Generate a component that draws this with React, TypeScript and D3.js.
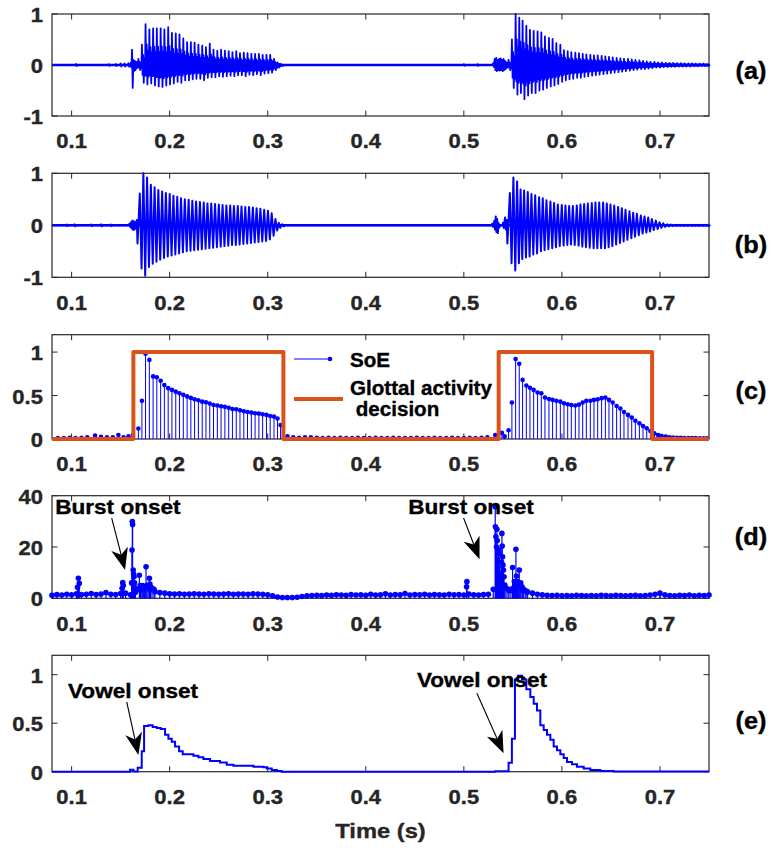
import React from 'react';
import * as d3 from 'd3';

// ---------------- data ----------------
const xTickValues = [0.1, 0.2, 0.3, 0.4, 0.5, 0.6, 0.7];
const xTickLabels = ['0.1', '0.2', '0.3', '0.4', '0.5', '0.6', '0.7'];
const waveTicks = [-1, 0, 1];
const waveTickLabels = ['-1', '0', '1'];
const unitTicks = [0, 0.5, 1];
const unitTickLabels = ['0', '0.5', '1'];
const burstTicks = [0, 20, 40];
const burstTickLabels = ['0', '20', '40'];
const panelNames = ['(a)', '(b)', '(c)', '(d)', '(e)'];
const panelLabelValues = [-0.15, -0.41, 0.53, 23.3, 0.507];

// glottal epochs (s)
const epochs1 = [0.1681, 0.1717, 0.1754, 0.1793, 0.1831, 0.1869, 0.1908, 0.1946, 0.1985, 0.2023,
  0.2062, 0.2100, 0.2139, 0.2178, 0.2216, 0.2254, 0.2293, 0.2332, 0.2370, 0.2409,
  0.2447, 0.2486, 0.2524, 0.2563, 0.2602, 0.2640, 0.2679, 0.2717, 0.2756, 0.2794,
  0.2833, 0.2871, 0.2910, 0.2948, 0.2987, 0.3025, 0.3064, 0.3100, 0.3131];
const epochs2 = [0.5456, 0.5490, 0.5528, 0.5565, 0.5599, 0.5637, 0.5674, 0.5712, 0.5752, 0.5790,
  0.5827, 0.5868, 0.5905, 0.5943, 0.5984, 0.6021, 0.6059, 0.6096, 0.6137, 0.6174,
  0.6212, 0.6249, 0.6290, 0.6327, 0.6365, 0.6405, 0.6443, 0.6480, 0.6518, 0.6558,
  0.6596, 0.6633, 0.6674, 0.6712, 0.6749, 0.6790, 0.6827, 0.6865, 0.6902, 0.6943,
  0.6980, 0.7018, 0.7059, 0.7096, 0.7134, 0.7174, 0.7212, 0.7249, 0.7290, 0.7327,
  0.7365, 0.7405, 0.7443, 0.7480];

// (a) speech signal, per-cycle extremes
const aHi1 = [0.12, 0.4, 0.8, 0.7, 0.72, 0.72, 0.72, 0.7, 0.74, 0.63,
  0.62, 0.6, 0.52, 0.45, 0.45, 0.44, 0.4, 0.38, 0.35, 0.42,
  0.3, 0.28, 0.3, 0.28, 0.27, 0.25, 0.27, 0.23, 0.24, 0.23,
  0.22, 0.22, 0.22, 0.2, 0.2, 0.2, 0.12, 0.05, 0.02];
const aLo1 = [-0.1, -0.35, -0.38, -0.36, -0.4, -0.42, -0.43, -0.4, -0.38, -0.36,
  -0.33, -0.35, -0.3, -0.3, -0.28, -0.27, -0.27, -0.3, -0.25, -0.24,
  -0.24, -0.22, -0.23, -0.22, -0.21, -0.22, -0.2, -0.2, -0.22, -0.19,
  -0.2, -0.18, -0.2, -0.17, -0.16, -0.15, -0.1, -0.05, -0.02];
const aHi2 = [0.1, 0.5, 1.0, 0.93, 0.87, 0.77, 0.69, 0.67, 0.66, 0.64,
  0.56, 0.53, 0.51, 0.43, 0.40, 0.29, 0.27, 0.25, 0.24, 0.23,
  0.22, 0.21, 0.2, 0.19, 0.19, 0.18, 0.17, 0.16, 0.15, 0.14,
  0.13, 0.12, 0.12, 0.11, 0.1, 0.09, 0.08, 0.07, 0.06, 0.06,
  0.05, 0.05, 0.04, 0.04, 0.04, 0.035, 0.035, 0.03, 0.03, 0.03,
  0.025, 0.025, 0.025, 0.02];
const aLo2 = [-0.1, -0.45, -0.58, -0.55, -0.67, -0.6, -0.55, -0.55, -0.5, -0.48,
  -0.45, -0.42, -0.4, -0.37, -0.33, -0.3, -0.28, -0.27, -0.25, -0.25,
  -0.23, -0.22, -0.21, -0.2, -0.19, -0.18, -0.17, -0.16, -0.15, -0.14,
  -0.13, -0.12, -0.11, -0.1, -0.09, -0.08, -0.08, -0.07, -0.06, -0.05,
  -0.05, -0.04, -0.04, -0.035, -0.035, -0.03, -0.03, -0.03, -0.03, -0.025,
  -0.025, -0.02, -0.02, -0.02];
const aBurstT = [0.1045, 0.1380, 0.1450, 0.1500, 0.1540, 0.1580, 0.1605, 0.1616, 0.1630, 0.1645, 0.1660,
  0.5000, 0.5140, 0.5300, 0.5315, 0.5330, 0.5345, 0.5360, 0.5375, 0.5390, 0.5405, 0.5420, 0.5435];
const aBurstHi = [0.02, 0.015, 0.02, 0.03, 0.03, 0.035, 0.05, 0.3, 0.1, 0.08, 0.06,
  0.015, 0.015, 0.04, 0.12, 0.14, 0.1, 0.12, 0.13, 0.1, 0.12, 0.08, 0.05];
const aBurstLo = [-0.02, -0.015, -0.02, -0.03, -0.03, -0.035, -0.05, -0.45, -0.12, -0.1, -0.06,
  -0.015, -0.015, -0.04, -0.1, -0.12, -0.1, -0.11, -0.1, -0.12, -0.1, -0.08, -0.05];

// (b) filtered signal, per-cycle extremes
const bHi1 = [0.61, 1.0, 0.92, 0.78, 0.73, 0.68, 0.65, 0.62, 0.6, 0.57,
  0.55, 0.52, 0.5, 0.49, 0.47, 0.46, 0.45, 0.44, 0.42, 0.42,
  0.41, 0.4, 0.39, 0.38, 0.38, 0.37, 0.37, 0.36, 0.35, 0.35,
  0.34, 0.33, 0.32, 0.3, 0.28, 0.23, 0.12, 0.05, 0.02];
const bLo1 = [-0.83, -0.97, -0.8, -0.74, -0.7, -0.66, -0.63, -0.6, -0.58, -0.56,
  -0.54, -0.52, -0.5, -0.49, -0.48, -0.47, -0.46, -0.45, -0.44, -0.43,
  -0.42, -0.41, -0.4, -0.39, -0.38, -0.38, -0.37, -0.36, -0.35, -0.34,
  -0.33, -0.32, -0.31, -0.3, -0.27, -0.2, -0.1, -0.05, -0.02];
const bHi2 = [0.62, 0.92, 0.84, 0.69, 0.67, 0.64, 0.6, 0.58, 0.54, 0.52,
  0.48, 0.46, 0.43, 0.4, 0.39, 0.38, 0.37, 0.37, 0.38, 0.4,
  0.41, 0.42, 0.43, 0.44, 0.44, 0.44, 0.42, 0.4, 0.38, 0.35,
  0.33, 0.3, 0.27, 0.24, 0.22, 0.19, 0.17, 0.15, 0.12, 0.09,
  0.06, 0.04, 0.02, 0.015, 0.01, 0.01, 0.01, 0.01, 0.01, 0.01,
  0.01, 0.01, 0.01, 0.01];
const bLo2 = [-0.73, -0.87, -0.73, -0.65, -0.62, -0.6, -0.56, -0.54, -0.5, -0.48,
  -0.46, -0.44, -0.42, -0.4, -0.39, -0.38, -0.37, -0.38, -0.39, -0.41,
  -0.42, -0.43, -0.44, -0.44, -0.44, -0.44, -0.42, -0.4, -0.37, -0.34,
  -0.31, -0.28, -0.25, -0.22, -0.19, -0.16, -0.14, -0.12, -0.09, -0.07,
  -0.05, -0.03, -0.02, -0.015, -0.01, -0.01, -0.01, -0.01, -0.01, -0.01,
  -0.01, -0.01, -0.01, -0.01];
const bBurstT = [0.0950, 0.1030, 0.1200, 0.1300, 0.1400, 0.1590, 0.1605, 0.1620, 0.1635, 0.1650, 0.1665,
  0.5290, 0.5310, 0.5325, 0.5340, 0.5355, 0.5400, 0.5420, 0.5437];
const bBurstHi = [0.015, 0.02, 0.015, 0.02, 0.015, 0.03, 0.06, 0.09, 0.08, 0.06, 0.1,
  0.03, 0.08, 0.17, 0.12, 0.04, 0.05, 0.15, 0.1];
const bBurstLo = [-0.015, -0.02, -0.015, -0.02, -0.015, -0.03, -0.06, -0.09, -0.08, -0.06, -0.35,
  -0.03, -0.08, -0.13, -0.15, -0.04, -0.05, -0.08, -0.35];

// (c) strength of excitation at epochs + glottal activity decision
const soe1 = [0.12, 0.44, 0.98, 0.91, 0.72, 0.71, 0.67, 0.62, 0.585, 0.565,
  0.545, 0.527, 0.508, 0.49, 0.473, 0.458, 0.446, 0.43, 0.423, 0.408,
  0.392, 0.385, 0.377, 0.37, 0.36, 0.346, 0.342, 0.33, 0.32, 0.31,
  0.304, 0.296, 0.292, 0.285, 0.277, 0.265, 0.258, 0.235, 0.16];
const soe2 = [0.1, 0.42, 0.92, 0.865, 0.68, 0.615, 0.59, 0.565, 0.535, 0.527,
  0.477, 0.46, 0.45, 0.44, 0.43, 0.41, 0.4, 0.39, 0.385, 0.396,
  0.42, 0.44, 0.44, 0.45, 0.458, 0.47, 0.477, 0.45, 0.42, 0.38,
  0.35, 0.31, 0.277, 0.246, 0.21, 0.18, 0.15, 0.123, 0.092, 0.065,
  0.046, 0.035, 0.027, 0.02, 0.018, 0.015, 0.013, 0.012, 0.01, 0.01,
  0.01, 0.008, 0.008, 0.008];
const soeNoiseT = [0.086, 0.092, 0.098, 0.104, 0.110, 0.116, 0.1239, 0.130, 0.136, 0.142, 0.1477, 0.153, 0.158, 0.1625,
  0.3201, 0.3260, 0.3320, 0.3380, 0.3440, 0.3500, 0.3560, 0.3620, 0.3680, 0.3740,
  0.3800, 0.3860, 0.3920, 0.3980, 0.4040, 0.4100, 0.4160, 0.4220, 0.4280, 0.4340,
  0.4400, 0.4460, 0.4520, 0.4580, 0.4640, 0.4700, 0.4760, 0.4820, 0.4880, 0.4940,
  0.5000, 0.5060, 0.5120, 0.5180, 0.5240, 0.5320, 0.5388, 0.5416];
const soeNoiseV = [0.01, 0.01, 0.015, 0.01, 0.015, 0.02, 0.04, 0.025, 0.02, 0.02, 0.045, 0.02, 0.03, 0.045,
  0.03, 0.02, 0.015, 0.02, 0.02, 0.015, 0.01, 0.015, 0.01, 0.015,
  0.01, 0.01, 0.015, 0.01, 0.01, 0.015, 0.01, 0.01, 0.015, 0.01,
  0.01, 0.01, 0.015, 0.01, 0.01, 0.015, 0.01, 0.01, 0.015, 0.01,
  0.01, 0.015, 0.01, 0.015, 0.02, 0.046, 0.07, 0.03];
const gadT = [0.08, 0.163, 0.316, 0.5355, 0.692, 0.75];
const gadV = [0, 1, 0, 1, 0, 0];

// (d) burst evidence: floor (5 ms frames from 0.08 s) + spikes
const dFloorStart = 0.08;
const dFloorStep = 0.005;
const dFloor = [1.2, 1.5, 1.3, 1.6, 1.4, 1.8, 1.5, 1.6, 1.9, 1.5,
  1.7, 2.2, 1.6, 1.5, 1.9, 2.0, 1.4, 2.4, 3.2, 3.8,
  3.2, 2.6, 2.2, 2.0, 1.8, 1.7, 1.8, 1.6, 1.7, 1.8,
  1.7, 1.6, 1.8, 1.7, 1.6, 1.7, 1.8, 1.6, 1.7, 1.7,
  1.6, 1.8, 1.7, 1.6, 1.4, 1.0, 0.5, 0.3, 0.3, 0.3,
  0.4, 0.7, 1.0, 1.1, 1.2, 1.1, 1.3, 1.2, 1.4, 1.3,
  1.2, 1.5, 1.3, 1.4, 1.2, 1.6, 1.3, 1.4, 1.8, 1.3,
  1.5, 1.4, 1.9, 1.3, 1.5, 1.4, 1.6, 1.3, 1.5, 1.4,
  1.3, 1.6, 1.4, 1.5, 1.3, 1.7, 1.4, 1.3, 1.5, 1.6,
  3.5, 5.0, 4.0, 3.5, 3.0, 4.5, 3.0, 2.5, 2.0, 1.6,
  1.4, 1.2, 1.1, 1.2, 1.0, 1.1, 1.0, 1.2, 1.1, 1.0,
  1.1, 1.0, 1.2, 1.1, 1.0, 1.2, 1.1, 1.0, 1.1, 1.2,
  1.0, 1.1, 1.3, 1.6, 2.0, 1.4, 1.1, 1.0, 1.2, 1.1,
  1.3, 1.0, 1.2, 1.1, 1.3];
const dSpikeT = [0.1060, 0.1069, 0.1078, 0.1515, 0.1521, 0.1527, 0.1612, 0.1616, 0.1619, 0.1622,
  0.1628, 0.1632, 0.1637, 0.1642, 0.1650, 0.1691, 0.1700, 0.1710, 0.1725, 0.1735,
  0.1745, 0.1759, 0.1768, 0.1780, 0.1793, 0.1798, 0.1805, 0.1820, 0.1840, 0.5028, 0.5031,
  0.5320, 0.5322, 0.5327, 0.5333, 0.5337, 0.5340, 0.5345, 0.5350, 0.5354,
  0.5358, 0.5362, 0.5368, 0.5374, 0.5380, 0.5385, 0.5388, 0.5391, 0.5395, 0.5399,
  0.5404, 0.5410, 0.5418, 0.5430, 0.5460, 0.5480, 0.5497, 0.5505, 0.5515, 0.5525,
  0.5531, 0.5537, 0.5545, 0.5555, 0.5565, 0.5572, 0.5580, 0.5593, 0.5610, 0.5627, 0.5644];
const dSpikeV = [4.3, 7.8, 5.8, 3.9, 6.1, 5.0, 6.0, 18.8, 29.9, 28.8,
  11.0, 9.5, 8.4, 6.0, 4.0, 9.0, 5.0, 4.0, 5.0, 3.5,
  4.0, 12.3, 5.0, 4.5, 7.8, 5.6, 4.5, 4.0, 3.5, 4.5, 6.5,
  35.7, 27.9, 24.0, 20.0, 26.9, 22.5, 15.0, 12.0, 18.8,
  17.5, 10.0, 8.0, 6.0, 9.0, 14.0, 25.3, 20.4, 16.2, 13.0,
  11.0, 8.4, 5.2, 4.0, 3.0, 3.5, 12.0, 4.0, 6.5, 5.0,
  19.1, 8.7, 6.5, 5.0, 11.0, 5.2, 6.0, 4.5, 3.5, 3.0, 2.5];

// (e) vowel onset evidence (stairs)
const vopT = [0.0800, 0.1596, 0.1630, 0.1674, 0.1715, 0.1739, 0.1783, 0.1827, 0.1868, 0.1909,
  0.1953, 0.1987, 0.2021, 0.2055, 0.2096, 0.2133, 0.2242, 0.2293, 0.2344, 0.2412,
  0.2514, 0.2582, 0.2650, 0.2854, 0.2956, 0.2990, 0.3041, 0.3093, 0.3143,
  0.5320, 0.5456, 0.5490, 0.5521, 0.5552, 0.5593, 0.5637, 0.5678, 0.5712, 0.5746,
  0.5780, 0.5814, 0.5848, 0.5882, 0.5916, 0.5950, 0.5984, 0.6018, 0.6052, 0.6103,
  0.6154, 0.6222, 0.6290, 0.6392, 0.6528, 0.7500];
const vopV = [0, 0.02, 0.003, 0.04, 0.21, 0.47, 0.48, 0.46, 0.45, 0.44,
  0.38, 0.34, 0.31, 0.26, 0.21, 0.18, 0.165, 0.15, 0.13, 0.11,
  0.096, 0.072, 0.062, 0.052, 0.045, 0.034, 0.017, 0.007, 0,
  0.005, 0.093, 0.34, 0.95, 0.99, 0.95, 0.85, 0.77, 0.70, 0.63,
  0.48, 0.43, 0.38, 0.33, 0.26, 0.22, 0.18, 0.14, 0.10, 0.076,
  0.05, 0.034, 0.017, 0.007, 0.003, 0.003];

// annotations (data coordinates)
const burstText = ['Burst onset', 'Burst onset'];
const burstTextT = [0.0832, 0.4433];
const burstTextV = [32.9, 32.9];
const burstArrowFrom = [[0.1409, 31.3], [0.4997, 31.3]];
const burstArrowTo = [[0.1545, 11.0], [0.5160, 15.2]];
const vowelText = ['Vowel onset', 'Vowel onset'];
const vowelTextT = [0.0963, 0.4521];
const vowelTextV = [0.761, 0.871];
const vowelArrowFrom = [[0.1562, 0.72], [0.5133, 0.808]];
const vowelArrowTo = [[0.1681, 0.172], [0.5405, 0.19]];
const legendLabels = ['SoE', 'Glottal activity', ' decision'];

// ---------------- layout ----------------
const W = 770, H = 848;
const PL = 52, PR = 709;
const BLUE = '#0000FF', ORANGE = '#D95319', AXIS = '#262626';
const FONT = "'Liberation Sans', Arial, Helvetica, sans-serif";
const TICK = 5.5;
const PERIOD = 0.00386;

const x = d3.scaleLinear().domain([0.08, 0.75]).range([PL, PR]);
const yA = d3.scaleLinear().domain([-1, 1]).range([116, 14]);
const yB = d3.scaleLinear().domain([-1, 1]).range([277.3, 173.3]);
const yC = d3.scaleLinear().domain([0, 1.2]).range([439, 334.7]);
const yD = d3.scaleLinear().domain([0, 40]).range([598.3, 495.7]);
const yE = d3.scaleLinear().domain([0, 1.2]).range([771.7, 655.3]);

function Txt({ x, y, size, sx = 1.13, anchor = 'middle', fill = AXIS, children }: any) {
  return (
    <text transform={`translate(${x},${y}) scale(${sx},1)`} fontFamily={FONT} fontWeight="bold"
      fontSize={size} textAnchor={anchor} fill={fill} stroke={fill} strokeWidth={0.35}>{children}</text>
  );
}

function Axes({ y, ticks, labels }: any) {
  const [b, t] = y.range();
  return (
    <g>
      <rect x={PL} y={t} width={PR - PL} height={b - t} fill="none" stroke={AXIS} strokeWidth={1.2} />
      {xTickValues.map((v, i) => (
        <g key={'x' + i}>
          <line x1={x(v)} x2={x(v)} y1={b} y2={b - TICK} stroke={AXIS} strokeWidth={1} />
          <line x1={x(v)} x2={x(v)} y1={t} y2={t + TICK} stroke={AXIS} strokeWidth={1} />
          <Txt x={x(v)} y={b + 32.2} size={19.5}>{xTickLabels[i]}</Txt>
        </g>
      ))}
      {ticks.map((v: number, i: number) => (
        <g key={'y' + i}>
          <line x1={PL} x2={PL + TICK} y1={y(v)} y2={y(v)} stroke={AXIS} strokeWidth={1} />
          <line x1={PR} x2={PR - TICK} y1={y(v)} y2={y(v)} stroke={AXIS} strokeWidth={1} />
          <Txt x={43} y={y(v) + 8} size={19.5} anchor="end">{labels[i]}</Txt>
        </g>
      ))}
    </g>
  );
}

type Ev = { t: number; hi: number; lo: number; cycle: boolean };

function makeEvents(bt: number[], bh: number[], bl: number[], groups: [number[], number[], number[]][]) {
  const ev: Ev[] = [];
  bt.forEach((t, i) => ev.push({ t, hi: bh[i], lo: bl[i], cycle: false }));
  groups.forEach(([ts, hs, ls]) => ts.forEach((t, i) => {
    if (hs[i] !== undefined) ev.push({ t, hi: hs[i], lo: ls[i], cycle: true });
  }));
  return ev.sort((a, b) => a.t - b.t);
}

function wavePath(ev: Ev[], y: any, style: 'speech' | 'filtered') {
  const pts: [number, number][] = [[0.08, 0]];
  ev.forEach((e, i) => {
    const next = i < ev.length - 1 ? ev[i + 1].t : 0.75;
    const gap = next - e.t;
    let seg: [number, number][];
    if (!e.cycle) {
      const h = Math.min(0.0007, gap * 0.5);
      seg = [[e.t, e.hi], [e.t + h, e.lo]];
    } else {
      const P = Math.min(PERIOD, gap);
      seg = style === 'speech'
        ? [[e.t, e.hi], [e.t + 0.18 * P, e.lo * 0.55], [e.t + 0.32 * P, e.hi * 0.5],
           [e.t + 0.5 * P, e.lo], [e.t + 0.68 * P, e.hi * 0.35], [e.t + 0.85 * P, e.lo * 0.6]]
        : [[e.t + 0.4 * P, e.hi], [e.t + 0.9 * P, e.lo]];
    }
    const prev = pts[pts.length - 1];
    if (seg[0][0] - prev[0] > 0.003) {
      if (prev[1] !== 0) pts.push([prev[0] + 0.0008, 0]);
      pts.push([seg[0][0] - 0.0008, 0]);
    }
    seg.forEach(p => pts.push(p));
  });
  const last = pts[pts.length - 1];
  pts.push([last[0] + 0.0008, 0]);
  pts.push([0.75, 0]);
  return d3.line()(pts.map(([t, v]) => [x(t), y(v)]) as [number, number][]) || '';
}

function Arrow({ from, to }: { from: [number, number]; to: [number, number] }) {
  const [x1, y1] = from, [x2, y2] = to;
  const dx = x2 - x1, dy = y2 - y1;
  const len = Math.hypot(dx, dy);
  const ux = dx / len, uy = dy / len;
  const nx = -uy, ny = ux;
  const L = 22, Wd = 8.5, N = 0.72 * L;
  const head = [
    [x2, y2],
    [x2 - L * ux + Wd * nx, y2 - L * uy + Wd * ny],
    [x2 - N * ux, y2 - N * uy],
    [x2 - L * ux - Wd * nx, y2 - L * uy - Wd * ny],
  ];
  return (
    <g>
      <line x1={x1} y1={y1} x2={x2 - N * ux} y2={y2 - N * uy} stroke="#000" strokeWidth={1.1} />
      <polygon points={head.map(p => p.join(',')).join(' ')} fill="#000" />
    </g>
  );
}

export default function App() {
  const evA = makeEvents(aBurstT, aBurstHi, aBurstLo, [[epochs1, aHi1, aLo1], [epochs2, aHi2, aLo2]]);
  const evB = makeEvents(bBurstT, bBurstHi, bBurstLo, [[epochs1, bHi1, bLo1], [epochs2, bHi2, bLo2]]);
  const pathA = wavePath(evA, yA, 'speech');
  const pathB = wavePath(evB, yB, 'filtered');

  const soeT = [...soeNoiseT, ...epochs1, ...epochs2];
  const soeV = [...soeNoiseV, ...soe1, ...soe2];

  const gadPath = d3.line<number>().x((_, i) => x(gadT[i])).y(v => yC(v)).curve(d3.curveStepAfter)(gadV) || '';
  const vopPath = d3.line<number>().x((_, i) => x(vopT[i])).y(v => yE(v)).curve(d3.curveStepAfter)(vopV) || '';

  const dT = [...dFloor.map((_, i) => dFloorStart + dFloorStep * i), ...dSpikeT];
  const dV = [...dFloor, ...dSpikeV];

  const panelScales = [yA, yB, yC, yD, yE];

  return (
    <svg width={W} height={H} viewBox={`0 0 ${W} ${H}`}
      style={{ position: 'absolute', left: 0, top: 0, background: '#fff' }}>
      <rect width={W} height={H} fill="#fff" />

      {/* (a) */}
      <Axes y={yA} ticks={waveTicks} labels={waveTickLabels} />
      <line x1={PL} x2={PR} y1={yA(0)} y2={yA(0)} stroke={BLUE} strokeWidth={2.4} />
      <path d={pathA} fill="none" stroke={BLUE} strokeWidth={1.8} strokeLinejoin="round" />

      {/* (b) */}
      <Axes y={yB} ticks={waveTicks} labels={waveTickLabels} />
      <line x1={PL} x2={PR} y1={yB(0)} y2={yB(0)} stroke={BLUE} strokeWidth={2.4} />
      <path d={pathB} fill="none" stroke={BLUE} strokeWidth={2.0} strokeLinejoin="round" />

      {/* (c) */}
      <Axes y={yC} ticks={unitTicks} labels={unitTickLabels} />
      {soeT.map((t, i) => (
        <line key={'cs' + i} x1={x(t)} x2={x(t)} y1={yC(0)} y2={yC(soeV[i])} stroke={BLUE} strokeWidth={1} />
      ))}
      {soeT.map((t, i) => (
        <circle key={'cd' + i} cx={x(t)} cy={yC(soeV[i])} r={2.3} fill={BLUE} />
      ))}
      <path d={gadPath} fill="none" stroke={ORANGE} strokeWidth={4} strokeLinejoin="round" />
      {/* legend */}
      <line x1={294} x2={330} y1={359} y2={359} stroke={BLUE} strokeWidth={1} />
      <circle cx={330} cy={359} r={2.3} fill={BLUE} />
      <line x1={294} x2={343} y1={399} y2={399} stroke={ORANGE} strokeWidth={4} />
      <Txt x={350} y={366.5} size={20} sx={1.03} anchor="start" fill="#000">{legendLabels[0]}</Txt>
      <Txt x={350} y={395} size={20} sx={1.03} anchor="start" fill="#000">{legendLabels[1]}</Txt>
      <Txt x={350} y={416} size={20} sx={1.03} anchor="start" fill="#000">
        <tspan xmlSpace="preserve" style={{ whiteSpace: 'pre' }}>{legendLabels[2]}</tspan>
      </Txt>

      {/* (d) */}
      <Axes y={yD} ticks={burstTicks} labels={burstTickLabels} />
      {dT.map((t, i) => (
        <line key={'ds' + i} x1={x(t)} x2={x(t)} y1={yD(0)} y2={yD(dV[i])} stroke={BLUE} strokeWidth={1.2} />
      ))}
      {dT.map((t, i) => (
        <circle key={'dd' + i} cx={x(t)} cy={yD(dV[i])} r={2.8} fill={BLUE} />
      ))}
      {burstText.map((s, i) => (
        <Txt key={'bt' + i} x={x(burstTextT[i])} y={yD(burstTextV[i])} size={20} anchor="start" fill="#000">{s}</Txt>
      ))}
      {burstArrowFrom.map((f, i) => (
        <Arrow key={'ba' + i} from={[x(f[0]), yD(f[1])]} to={[x(burstArrowTo[i][0]), yD(burstArrowTo[i][1])]} />
      ))}

      {/* (e) */}
      <Axes y={yE} ticks={unitTicks} labels={unitTickLabels} />
      <path d={vopPath} fill="none" stroke={BLUE} strokeWidth={2} />
      {vowelText.map((s, i) => (
        <Txt key={'vt' + i} x={x(vowelTextT[i])} y={yE(vowelTextV[i])} size={20} anchor="start" fill="#000">{s}</Txt>
      ))}
      {vowelArrowFrom.map((f, i) => (
        <Arrow key={'va' + i} from={[x(f[0]), yE(f[1])]} to={[x(vowelArrowTo[i][0]), yE(vowelArrowTo[i][1])]} />
      ))}

      {/* panel labels */}
      {panelNames.map((n, i) => (
        <Txt key={'pl' + i} x={751} y={panelScales[i](panelLabelValues[i]) + 6} size={23} sx={1.1} fill="#000">{n}</Txt>
      ))}

      <Txt x={(PL + PR) / 2} y={837.6} size={21}>Time (s)</Txt>
    </svg>
  );
}
